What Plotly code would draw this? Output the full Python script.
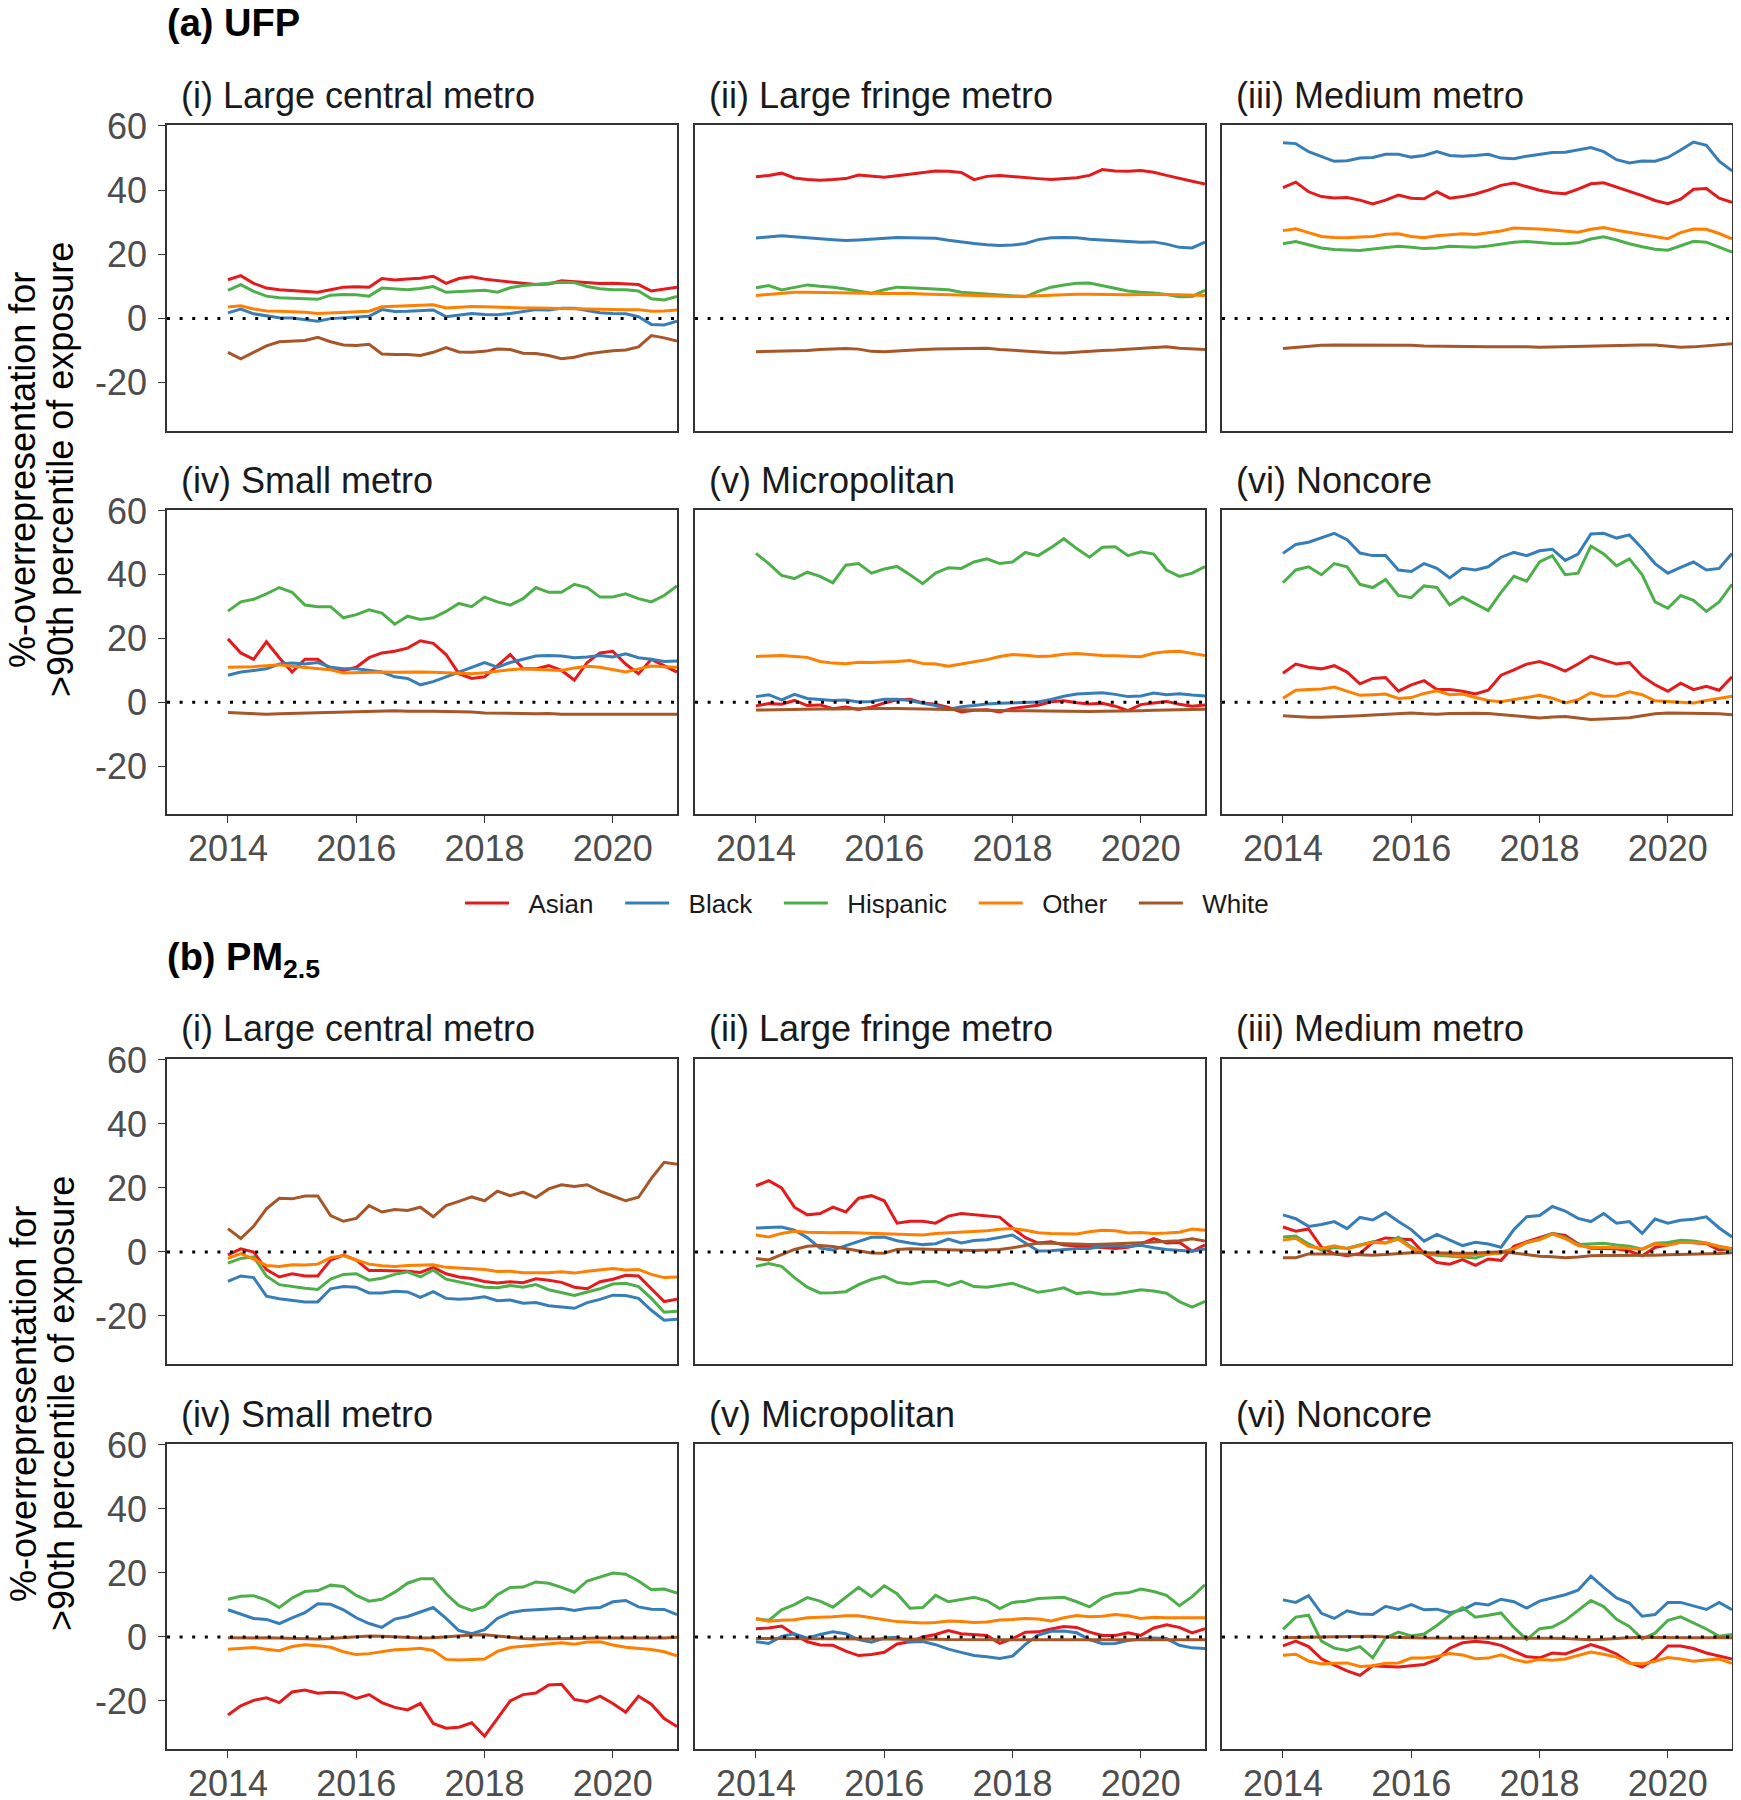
import plotly.graph_objects as go

# x positions: every 0.2 year from 2014.0 to 2021.0
years = [round(2014 + 0.2 * i, 1) for i in range(36)]

groups = ['Asian', 'Black', 'Hispanic', 'Other', 'White']
colors = {'Asian': '#E41A1C', 'Black': '#377EB8', 'Hispanic': '#4DAF4A',
          'Other': '#FF7F00', 'White': '#A65628'}

panel_titles = ['(i) Large central metro', '(ii) Large fringe metro', '(iii) Medium metro',
                '(iv) Small metro', '(v) Micropolitan', '(vi) Noncore']
section_titles = ['<b>(a) UFP</b>', '<b>(b) PM<sub>2.5</sub></b>']
x_ticks = [2014, 2016, 2018, 2020]
y_ticks = [-20, 0, 20, 40, 60]
y_ticktext = ['-20', '0', '20', '40', '60']

# ---- (a) UFP ----
ufp_central = {
    'Asian': [12.1, 13.4, 11.0, 9.5, 9.0, 8.8, 8.6, 8.2, 9.0, 9.8, 9.9, 9.8, 12.5, 12.0, 12.3, 12.6, 13.2, 11.0,
              12.5, 13.0, 12.3, 11.8, 11.3, 11.0, 10.6, 10.8, 11.8, 11.5, 11.2, 10.9, 11.0, 10.8, 10.6, 8.6, 9.2, 9.8],
    'Black': [1.8, 3.0, 1.5, 0.8, 0.3, 0.2, -0.2, -0.8, 0.0, 0.3, 0.5, 0.7, 2.8, 2.2, 2.3, 2.6, 2.7, 0.6,
              1.2, 1.6, 1.3, 1.2, 1.6, 2.3, 2.8, 2.7, 3.2, 3.2, 2.5, 1.8, 1.6, 1.5, 0.6, -1.8, -2.0, -0.8],
    'Hispanic': [8.8, 10.6, 8.5, 7.0, 6.5, 6.3, 6.3, 6.0, 7.3, 7.5, 7.4, 7.0, 9.5, 9.2, 9.0, 9.4, 10.0, 8.2,
                 8.4, 8.8, 8.8, 8.2, 9.6, 10.3, 10.6, 10.8, 11.3, 11.2, 10.0, 9.3, 9.0, 9.0, 8.6, 6.2, 5.8, 6.9],
    'Other': [3.6, 4.0, 3.0, 2.4, 2.3, 2.2, 2.0, 1.6, 1.8, 2.0, 2.1, 2.3, 3.7, 3.9, 4.0, 4.2, 4.3, 3.3,
              3.5, 3.8, 3.7, 3.5, 3.4, 3.3, 3.3, 3.2, 3.3, 3.2, 3.0, 3.0, 2.9, 2.8, 2.8, 2.3, 2.4, 2.7],
    'White': [-10.5, -12.5, -10.5, -8.5, -7.2, -7.0, -6.8, -5.8, -7.2, -8.2, -8.4, -8.0, -11.0, -11.2, -11.2, -11.5,
              -10.5, -9.0, -10.4, -10.5, -10.2, -9.5, -9.6, -10.8, -10.9, -11.5, -12.5, -12.0, -11.0, -10.5, -10.0,
              -9.8, -8.8, -5.3, -6.0, -7.0],
}
ufp_fringe = {
    'Asian': [44.2, 44.6, 45.3, 43.8, 43.3, 43.1, 43.3, 43.6, 44.7, 44.3, 44.0, 44.5, 45.0, 45.6, 46.0, 45.9, 45.5, 43.3,
              44.3, 44.6, 44.2, 43.8, 43.6, 43.3, 43.5, 43.9, 44.6, 46.4, 46.0, 45.9, 46.1, 45.6, 44.6, 43.6, 42.8, 41.9],
    'Black': [25.1, 25.5, 25.8, 25.5, 25.3, 24.9, 24.6, 24.3, 24.5, 24.8, 25.1, 25.3, 25.2, 25.1, 25.0, 24.4, 23.8, 23.4,
              23.0, 22.8, 22.9, 23.4, 24.6, 25.2, 25.3, 25.2, 24.7, 24.4, 24.2, 24.0, 23.8, 23.9, 23.2, 22.2, 22.0, 23.8],
    'Hispanic': [9.6, 10.3, 8.9, 9.8, 10.5, 10.1, 9.8, 9.2, 8.6, 7.9, 9.0, 9.8, 9.6, 9.4, 9.3, 9.0, 8.2, 7.9,
                 7.6, 7.3, 7.1, 6.8, 8.5, 9.8, 10.5, 11.0, 11.1, 10.2, 9.4, 8.6, 8.2, 8.0, 7.5, 6.8, 6.9, 8.8],
    'Other': [7.2, 7.6, 8.0, 8.2, 8.2, 8.1, 8.0, 7.9, 8.0, 7.9, 7.8, 7.8, 7.9, 7.7, 7.6, 7.5, 7.3, 7.2,
              7.0, 6.9, 6.9, 7.0, 7.2, 7.3, 7.5, 7.6, 7.6, 7.5, 7.4, 7.4, 7.5, 7.6, 7.5, 7.4, 7.3, 7.2],
    'White': [-10.3, -10.2, -10.0, -10.1, -9.9, -9.6, -9.5, -9.3, -9.5, -10.2, -10.3, -10.0, -9.8, -9.6, -9.5, -9.4,
              -9.2, -9.1, -9.2, -9.6, -9.9, -10.2, -10.4, -10.6, -10.7, -10.4, -10.1, -9.9, -9.8, -9.5, -9.2, -8.9,
              -8.8, -9.2, -9.4, -9.6],
}
ufp_medium = {
    'Asian': [40.8, 42.5, 39.5, 38.0, 37.6, 37.7, 36.9, 35.7, 36.9, 38.5, 37.5, 37.3, 39.5, 37.5, 38.0, 38.8, 40.0, 41.5,
              42.2, 41.0, 40.0, 39.2, 38.9, 40.3, 42.0, 42.3, 41.0, 39.5, 38.3, 36.8, 35.8, 37.2, 40.3, 40.5, 37.5, 36.2],
    'Black': [54.8, 54.5, 52.0, 50.5, 49.0, 49.2, 50.0, 50.2, 51.2, 51.2, 50.3, 50.8, 52.0, 50.8, 50.6, 50.8, 51.2, 50.0,
              49.8, 50.6, 51.2, 51.7, 51.8, 52.5, 53.3, 52.0, 49.5, 48.5, 49.1, 49.0, 50.2, 52.5, 55.0, 54.0, 49.0, 46.0],
    'Hispanic': [23.3, 24.0, 23.0, 22.0, 21.5, 21.3, 21.2, 21.7, 22.2, 22.5, 22.2, 21.8, 22.0, 22.5, 22.4, 22.2, 22.6,
                 23.2, 23.8, 24.0, 23.6, 23.4, 23.3, 23.6, 24.8, 25.5, 24.5, 23.3, 22.4, 21.6, 21.3, 22.8, 24.1, 23.8,
                 22.3, 20.7],
    'Other': [27.4, 28.0, 26.8, 25.6, 25.3, 25.2, 25.4, 25.6, 26.3, 26.4, 25.6, 25.2, 25.8, 26.2, 26.4, 26.2, 26.8, 27.3,
              28.2, 28.1, 27.9, 27.6, 27.3, 26.9, 27.8, 28.4, 27.5, 26.9, 26.3, 25.5, 24.9, 26.8, 27.9, 27.8, 26.5, 24.8],
    'White': [-9.3, -8.9, -8.5, -8.3, -8.2, -8.2, -8.3, -8.4, -8.3, -8.2, -8.3, -8.5, -8.6, -8.7, -8.6, -8.7, -8.8, -8.8,
              -8.7, -8.8, -8.9, -8.8, -8.8, -8.7, -8.5, -8.4, -8.2, -8.1, -8.2, -8.2, -8.5, -8.9, -8.8, -8.4, -8.0, -7.8],
}
ufp_small = {
    'Asian': [19.9, 15.5, 13.5, 19.0, 14.0, 9.5, 13.5, 13.5, 10.5, 10.0, 11.0, 14.0, 15.5, 16.0, 17.0, 19.3, 18.5, 15.0,
              9.0, 7.5, 8.0, 11.5, 15.0, 10.5, 10.5, 11.5, 10.0, 7.0, 12.5, 15.5, 16.0, 12.0, 9.0, 13.5, 11.5, 9.5],
    'Black': [8.5, 9.5, 10.0, 10.5, 12.0, 12.3, 12.0, 12.5, 11.0, 10.5, 10.5, 10.0, 9.5, 8.0, 7.5, 5.5, 6.5, 8.0,
              9.5, 11.0, 12.5, 11.0, 12.5, 13.5, 14.5, 14.7, 14.5, 14.0, 14.2, 14.7, 14.2, 15.2, 14.0, 13.5, 12.8, 13.0],
    'Hispanic': [28.6, 31.5, 32.3, 34.0, 36.0, 34.5, 30.5, 30.0, 30.0, 26.5, 27.5, 29.0, 28.0, 24.5, 27.0, 26.0, 26.5,
                 28.5, 31.0, 30.0, 33.0, 31.5, 30.5, 32.5, 36.0, 34.5, 34.5, 37.0, 36.0, 33.0, 33.0, 34.0, 32.5, 31.5,
                 33.5, 36.5],
    'Other': [11.0, 11.0, 11.2, 11.5, 11.8, 11.3, 11.0, 10.7, 10.2, 9.2, 9.3, 9.6, 9.5, 9.4, 9.5, 9.5, 9.4, 9.3,
              9.0, 9.0, 9.3, 9.8, 10.2, 10.5, 10.3, 10.0, 10.0, 10.8, 11.3, 11.0, 10.2, 9.5, 10.5, 11.4, 11.2, 11.0],
    'White': [-3.2, -3.4, -3.6, -3.7, -3.6, -3.5, -3.3, -3.2, -3.0, -2.9, -2.9, -2.8, -2.7, -2.6, -2.8, -2.7, -2.8, -2.9,
              -2.9, -3.0, -3.3, -3.3, -3.4, -3.5, -3.6, -3.5, -3.7, -3.7, -3.6, -3.7, -3.6, -3.5, -3.6, -3.6, -3.7, -3.7],
}
ufp_micro = {
    'Asian': [-1.1, -0.4, -0.6, 0.6, -1.0, -0.8, -2.0, -1.5, -2.2, -1.5, -0.2, 0.8, 1.0, -0.2, -0.6, -1.6, -3.0, -2.5,
              -2.3, -3.0, -1.9, -1.5, -0.9, 0.2, 0.5, -0.1, -0.5, -0.3, -1.2, -2.6, -0.7, -0.2, 0.3, -0.6, -1.2, -0.8],
    'Black': [1.8, 2.4, 0.8, 2.5, 1.2, 0.8, 0.6, 0.7, 0.1, 0.3, 1.0, 1.0, 0.6, -0.3, -1.0, -2.2, -1.4, -1.0,
              -0.5, -0.3, -0.2, -0.2, 0.1, 0.9, 1.9, 2.6, 2.8, 3.0, 2.5, 1.8, 2.0, 2.9, 2.4, 2.7, 2.3, 2.0],
    'Hispanic': [46.7, 43.5, 39.8, 38.8, 40.8, 39.5, 37.5, 43.0, 43.5, 40.5, 41.8, 42.6, 40.0, 37.2, 40.5, 42.2, 42.0,
                 44.0, 45.0, 43.5, 44.0, 47.0, 46.0, 48.5, 51.3, 48.2, 45.5, 48.6, 48.8, 46.0, 47.2, 46.5, 41.5, 39.5,
                 40.5, 42.6],
    'Other': [14.4, 14.5, 14.7, 14.4, 14.1, 12.8, 12.3, 12.1, 12.6, 12.5, 12.6, 12.8, 13.1, 12.2, 12.0, 11.3, 12.0, 12.7,
              13.4, 14.4, 15.0, 14.8, 14.4, 14.5, 15.1, 15.3, 14.9, 14.7, 14.6, 14.4, 14.3, 15.4, 15.9, 16.0, 15.4, 14.7],
    'White': [-2.4, -2.3, -2.3, -2.2, -2.2, -2.1, -2.1, -2.0, -2.0, -2.0, -1.9, -1.9, -2.0, -2.1, -2.2, -2.3, -2.4, -2.5,
              -2.5, -2.6, -2.6, -2.6, -2.7, -2.8, -2.8, -2.9, -2.9, -2.8, -2.8, -2.7, -2.6, -2.5, -2.4, -2.3, -2.2, -2.2],
}
ufp_noncore = {
    'Asian': [9.1, 12.0, 11.0, 10.5, 11.5, 9.5, 5.8, 7.5, 7.8, 3.5, 5.5, 6.8, 4.0, 4.0, 3.5, 2.6, 3.8, 8.5,
              10.2, 12.0, 12.8, 11.5, 9.8, 12.0, 14.5, 13.2, 12.0, 12.5, 8.2, 5.5, 3.5, 6.0, 4.0, 5.0, 3.8, 8.0],
    'Black': [46.7, 49.5, 50.2, 51.5, 53.0, 51.0, 46.8, 46.0, 46.0, 41.5, 41.0, 43.5, 42.0, 39.0, 42.0, 41.5, 42.5, 45.5,
              47.0, 46.0, 47.5, 48.0, 44.5, 46.5, 52.8, 53.0, 51.5, 52.5, 48.2, 43.5, 40.5, 42.3, 44.0, 41.5, 42.0, 46.7],
    'Hispanic': [37.5, 41.5, 42.5, 40.0, 43.5, 42.5, 37.0, 36.0, 38.5, 33.5, 32.8, 36.5, 36.0, 30.5, 33.0, 31.0, 28.8,
                 34.5, 39.5, 38.0, 44.0, 46.0, 40.0, 40.5, 49.0, 46.5, 42.8, 45.0, 40.0, 31.5, 29.5, 33.5, 32.0, 28.5,
                 31.5, 37.0],
    'Other': [1.3, 3.8, 4.0, 4.2, 4.8, 3.6, 2.2, 2.4, 2.6, 1.2, 1.5, 2.8, 3.6, 2.4, 2.6, 1.5, 0.6, 0.2,
              0.9, 1.7, 2.2, 1.3, -0.2, 0.8, 3.0, 1.9, 2.0, 3.3, 2.4, 0.5, 0.2, 0.0, -0.2, 0.6, 1.2, 1.9],
    'White': [-4.2, -4.5, -4.7, -4.7, -4.6, -4.5, -4.2, -4.0, -3.8, -3.5, -3.3, -3.6, -3.7, -3.5, -3.4, -3.4, -3.5, -3.8,
              -4.3, -4.5, -4.9, -4.6, -4.4, -4.9, -5.4, -5.2, -5.0, -4.8, -4.2, -3.6, -3.3, -3.3, -3.4, -3.5, -3.6, -3.9],
}

# ---- (b) PM2.5 ----
pm_central = {
    'Asian': [-0.9, 1.0, 0.0, -5.5, -7.8, -6.8, -7.5, -7.5, -2.5, -1.0, -2.5, -5.8, -5.8, -5.8, -6.0, -6.4, -4.8, -6.8,
              -7.8, -8.3, -9.2, -9.7, -9.3, -9.6, -8.4, -8.8, -9.5, -11.0, -11.5, -9.3, -8.5, -7.3, -7.5, -11.5, -15.5,
              -14.8],
    'Black': [-9.2, -7.5, -8.0, -13.8, -14.6, -15.1, -15.6, -15.6, -11.5, -10.8, -11.0, -12.8, -12.8, -12.3, -12.5,
              -14.2, -12.4, -14.5, -14.8, -14.5, -14.0, -15.2, -15.0, -16.0, -15.8, -16.8, -17.2, -17.6, -15.8, -14.8,
              -13.5, -13.6, -14.5, -18.2, -21.3, -21.0],
    'Hispanic': [-3.5, -2.0, -1.5, -7.5, -10.2, -10.8, -11.3, -11.7, -8.5, -7.0, -6.8, -8.8, -8.2, -7.0, -6.2, -7.8,
                 -5.6, -8.5, -9.3, -10.0, -11.0, -11.2, -10.5, -11.0, -10.2, -11.8, -12.8, -13.6, -12.5, -11.5, -10.0,
                 -9.8, -10.8, -14.5, -18.8, -18.5],
    'Other': [-2.0, -0.5, -2.2, -4.2, -4.5, -4.0, -4.1, -3.8, -1.8, -1.1, -2.5, -3.8, -4.3, -4.5, -4.2, -4.1, -4.0, -4.8,
              -5.0, -5.2, -5.5, -6.1, -6.0, -6.5, -6.6, -6.5, -6.2, -6.6, -6.0, -5.7, -5.2, -5.6, -5.5, -7.0, -8.0, -7.8],
    'White': [7.3, 4.2, 8.0, 13.5, 16.8, 16.6, 17.5, 17.5, 11.4, 9.6, 10.5, 14.5, 12.5, 13.3, 13.0, 14.0, 11.0, 14.5,
              15.8, 17.2, 16.0, 19.0, 17.6, 18.7, 17.0, 19.7, 21.0, 20.5, 21.0, 19.0, 17.5, 16.0, 17.1, 23.0, 28.0, 27.4],
}
pm_fringe = {
    'Asian': [20.7, 22.3, 20.0, 14.0, 11.6, 12.0, 14.0, 12.5, 16.8, 17.6, 16.0, 9.0, 9.6, 9.6, 9.0, 11.2, 12.0, 11.7,
              11.4, 10.9, 7.5, 4.5, 2.8, 3.2, 2.2, 2.0, 1.6, 1.4, 1.1, 1.5, 2.5, 4.2, 2.8, 3.0, 0.2, 2.2],
    'Black': [7.5, 7.7, 7.8, 6.8, 4.5, 1.2, 0.6, 2.0, 3.3, 4.6, 4.7, 3.5, 2.8, 2.3, 2.6, 4.0, 2.8, 3.6,
              3.8, 4.6, 5.3, 2.8, 0.3, 0.4, 0.8, 1.1, 1.1, 1.8, 2.0, 1.7, 2.1, 1.3, 0.8, 0.5, 0.2, 0.9],
    'Hispanic': [-4.5, -3.6, -4.5, -8.0, -11.0, -12.8, -12.7, -12.4, -10.2, -8.6, -7.6, -9.5, -10.0, -9.3, -9.2, -10.5,
                 -9.2, -10.8, -11.0, -10.5, -9.8, -11.2, -12.6, -12.0, -11.2, -13.0, -12.5, -13.2, -13.1, -12.5, -11.8,
                 -12.2, -12.9, -15.5, -17.2, -15.4],
    'Other': [5.3, 4.7, 5.8, 6.5, 6.2, 6.0, 6.0, 6.1, 6.0, 5.9, 5.8, 5.6, 5.4, 5.3, 5.8, 6.0, 6.1, 6.4,
              6.6, 7.1, 7.3, 6.8, 6.0, 5.8, 5.6, 5.6, 6.3, 6.8, 6.6, 5.9, 6.1, 5.8, 5.9, 6.2, 7.2, 6.8],
    'White': [-2.0, -2.5, -0.8, 0.8, 1.8, 2.0, 1.7, 1.0, 0.2, -0.3, -0.4, 0.8, 1.0, 0.9, 0.7, 0.6, 0.4, 0.5,
              0.6, 0.8, 1.3, 2.0, 2.8, 2.7, 2.5, 2.3, 2.3, 2.4, 2.5, 2.7, 2.9, 3.1, 3.2, 3.5, 4.1, 3.4],
}
pm_medium = {
    'Asian': [7.8, 6.5, 7.2, 1.5, -0.6, -1.2, -0.5, 3.0, 4.4, 4.2, 3.8, -0.5, -3.3, -3.8, -2.4, -4.2, -2.2, -2.6,
              1.8, 3.2, 4.4, 5.8, 5.2, 2.6, 1.2, 1.0, 1.0, 0.3, -1.2, 1.4, 2.2, 3.1, 2.9, 2.6, 0.6, 1.1],
    'Black': [11.6, 10.4, 8.0, 8.6, 9.5, 7.3, 10.8, 10.0, 12.3, 9.5, 7.0, 3.4, 5.5, 3.8, 2.0, 3.0, 2.5, 1.5,
              7.0, 11.0, 11.4, 14.2, 12.8, 10.5, 9.5, 12.0, 9.0, 9.5, 5.8, 10.3, 9.0, 9.9, 10.2, 11.0, 7.5, 4.7],
    'Hispanic': [4.7, 5.0, 2.5, 0.6, 1.4, 1.2, 2.2, 3.2, 2.8, 4.6, 1.6, -0.6, -1.0, -1.2, -1.6, -1.9, -0.6, -0.1,
                 1.0, 2.9, 4.0, 5.8, 4.5, 2.3, 2.6, 2.7, 2.2, 1.8, 0.9, 2.7, 3.0, 3.7, 3.4, 2.8, 1.6, 0.6],
    'Other': [3.7, 4.3, 1.8, 1.1, 1.9, 1.0, 2.0, 3.0, 2.8, 4.0, 1.2, -0.4, -0.7, -1.0, -1.2, -0.8, -0.5, -0.4,
              1.0, 3.0, 3.8, 5.6, 4.2, 2.0, 1.4, 1.5, 1.3, 1.2, 0.8, 2.6, 2.1, 3.0, 3.0, 2.7, 1.8, 1.1],
    'White': [-1.8, -1.8, -0.6, -0.5, -0.6, -0.7, -0.9, -1.0, -0.8, -0.5, -0.2, -0.2, -0.3, -0.4, -0.4, -0.3, -0.1, 0.1,
              -0.3, -0.8, -1.3, -1.5, -1.8, -1.6, -1.2, -1.1, -1.1, -1.2, -1.1, -1.0, -0.9, -0.8, -0.8, -0.7, -0.5, -0.2],
}
pm_small = {
    'Asian': [-24.4, -21.5, -19.8, -19.0, -20.5, -17.2, -16.6, -17.6, -17.3, -17.5, -19.2, -18.0, -20.5, -22.0, -22.8,
              -20.8, -27.0, -28.5, -28.2, -26.8, -31.0, -25.5, -20.0, -18.0, -17.5, -15.0, -14.8, -19.5, -20.2, -18.5,
              -20.8, -23.5, -18.5, -21.0, -25.5, -28.0],
    'Black': [8.5, 7.2, 5.8, 5.5, 4.2, 6.0, 7.6, 10.4, 10.2, 8.5, 6.0, 4.2, 3.0, 5.6, 6.4, 7.8, 9.2, 5.8,
              2.0, 1.0, 2.3, 5.8, 7.6, 8.3, 8.6, 8.9, 9.0, 8.3, 9.0, 9.2, 11.0, 11.4, 9.4, 8.7, 8.6, 7.0],
    'Hispanic': [11.8, 12.7, 12.9, 11.5, 9.2, 12.2, 14.2, 14.5, 16.2, 15.8, 13.0, 11.2, 11.8, 14.0, 16.8, 18.2, 18.2,
                 13.5, 9.8, 8.3, 9.5, 13.2, 15.5, 15.6, 17.2, 16.8, 15.5, 14.0, 17.5, 18.8, 20.0, 19.6, 17.5, 14.8,
                 15.0, 13.7],
    'Other': [-3.8, -3.6, -3.3, -3.8, -4.3, -3.0, -2.4, -2.7, -3.2, -4.6, -5.5, -5.2, -4.5, -4.0, -3.8, -3.5, -4.2, -7.0,
              -7.2, -7.0, -6.9, -4.5, -3.3, -2.9, -2.5, -2.3, -1.8, -2.3, -1.6, -1.5, -2.5, -3.2, -3.6, -3.9, -4.6, -5.9],
    'White': [-0.2, -0.3, -0.3, -0.2, -0.3, -0.5, -0.6, -0.6, -0.5, -0.3, 0.0, 0.3, 0.2, 0.0, -0.2, -0.3, -0.2, 0.1,
              0.4, 0.6, 0.7, 0.3, -0.3, -0.5, -0.6, -0.6, -0.5, -0.5, -0.4, -0.3, -0.3, -0.4, -0.5, -0.4, -0.3, -0.1],
}
pm_micro = {
    'Asian': [2.6, 2.8, 3.4, 0.8, -1.5, -2.5, -2.6, -4.4, -5.8, -5.5, -4.8, -2.2, -1.5, 0.0, 0.8, 2.0, 1.0, 0.8,
              0.5, -2.0, -0.5, 1.5, 1.6, 2.5, 3.3, 3.0, 1.5, 0.5, 0.5, 1.3, 0.5, 2.8, 3.8, 3.0, 1.3, 2.6],
    'Black': [-1.5, -2.0, 0.2, 1.0, -0.4, 0.8, 1.6, 1.0, -0.8, -1.6, -0.3, -0.1, -1.6, -1.4, -2.4, -3.8, -4.8, -5.8,
              -6.2, -6.7, -6.0, -2.3, 0.6, 1.8, 1.9, 1.3, -0.8, -2.1, -2.0, -1.1, -0.6, -0.3, -0.5, -2.6, -3.4, -3.6],
    'Hispanic': [5.7, 5.2, 8.5, 10.1, 12.3, 11.2, 9.3, 12.5, 15.5, 12.6, 16.0, 13.5, 9.0, 9.2, 13.0, 11.0, 11.8, 12.4,
                 11.3, 8.9, 10.8, 11.2, 12.0, 12.1, 12.4, 11.0, 9.4, 12.2, 13.6, 13.8, 15.0, 14.2, 13.0, 9.8, 12.6, 16.3],
    'Other': [5.7, 4.9, 5.2, 5.4, 6.0, 6.1, 6.3, 6.6, 6.6, 6.0, 5.4, 4.8, 4.6, 4.4, 4.5, 5.0, 4.8, 4.5,
              4.7, 5.3, 5.5, 5.8, 5.6, 5.0, 6.0, 6.7, 6.3, 6.5, 7.0, 6.6, 5.8, 6.2, 6.0, 6.1, 6.0, 6.0],
    'White': [-0.5, -0.5, -0.6, -0.6, -0.6, -0.6, -0.6, -0.6, -0.7, -0.7, -0.7, -0.7, -0.7, -0.7, -0.7, -0.8, -0.8, -0.8,
              -0.8, -0.8, -0.8, -0.8, -0.8, -0.8, -0.8, -0.8, -0.8, -0.8, -0.9, -0.9, -0.9, -0.9, -0.9, -0.9, -0.9, -0.9],
}
pm_noncore = {
    'Asian': [-2.8, -1.3, -3.0, -6.8, -8.8, -10.6, -12.0, -9.0, -9.2, -9.4, -9.0, -8.6, -7.0, -3.5, -1.8, -1.3, -1.7,
              -2.6, -4.4, -6.2, -6.5, -5.0, -5.3, -3.8, -2.4, -3.6, -5.3, -8.0, -9.4, -6.8, -2.8, -2.8, -3.6, -5.0,
              -6.0, -6.9],
    'Black': [11.6, 10.8, 12.9, 7.4, 5.8, 8.2, 7.2, 7.0, 9.6, 8.6, 10.1, 8.5, 8.7, 7.6, 8.5, 10.5, 10.0, 11.8,
              11.0, 9.0, 11.2, 12.2, 13.2, 14.6, 19.0, 15.5, 12.2, 10.6, 6.5, 7.0, 10.8, 10.8, 9.8, 8.6, 10.8, 8.5],
    'Hispanic': [2.4, 6.2, 6.8, -1.3, -3.5, -4.2, -3.0, -6.5, -0.3, 1.5, 0.3, 0.9, 3.6, 6.8, 9.2, 6.2, 6.8, 7.5,
                 3.0, -0.8, 2.6, 3.1, 5.2, 8.3, 11.4, 9.5, 5.5, 3.3, -0.6, 1.2, 5.2, 6.3, 4.3, 2.5, 0.2, 0.8],
    'Other': [-5.7, -5.4, -7.5, -8.4, -8.2, -8.1, -9.2, -9.0, -8.2, -8.1, -6.6, -6.6, -6.1, -5.2, -5.6, -6.8, -6.6, -5.6,
              -7.0, -7.9, -7.0, -7.3, -6.9, -5.8, -4.7, -5.4, -6.3, -8.2, -8.4, -7.6, -6.4, -6.9, -7.6, -7.2, -6.9, -8.2],
    'White': [-0.2, -0.2, -0.1, 0.0, 0.1, 0.2, 0.3, 0.2, 0.0, -0.2, -0.2, -0.3, -0.3, -0.3, -0.2, -0.2, -0.2, -0.2,
              -0.3, -0.3, -0.3, -0.4, -0.5, -0.7, -0.9, -0.7, -0.4, -0.2, -0.1, -0.2, -0.2, -0.2, -0.2, -0.2, -0.2, -0.2],
}

sections = [
    [ufp_central, ufp_fringe, ufp_medium, ufp_small, ufp_micro, ufp_noncore],
    [pm_central, pm_fringe, pm_medium, pm_small, pm_micro, pm_noncore],
]

# page geometry in pixels (the page body adds an 8px margin, so shift up/left)
W, H = 1741, 1800
OFF = 8
col_px = [(167, 677), (695, 1205), (1222, 1732)]
row_px = [(125, 431), (510, 814), (1059, 1364), (1444, 1749)]
FONT = 'Liberation Sans, Arial, sans-serif'
NB = '\u00a0'


def px_x(v):
    return (v - OFF) / W


def px_y(v):
    return 1 - (v - OFF) / H


fig = go.Figure()
layout = {}
annotations = []
shapes = []

for s, panels in enumerate(sections):
    for p, data in enumerate(panels):
        n = s * 6 + p + 1
        r = s * 2 + p // 3
        c = p % 3
        xa = 'x' if n == 1 else f'x{n}'
        ya = 'y' if n == 1 else f'y{n}'
        for g in groups:
            fig.add_trace(go.Scatter(
                x=years, y=data[g], mode='lines', name=NB * 2 + g + NB * 3, xaxis=xa, yaxis=ya,
                line=dict(color=colors[g], width=3),
                legendgroup=g, showlegend=(n == 1),
            ))
        bottom_row = (p // 3 == 1)
        left_col = (c == 0)
        x0, x1 = col_px[c]
        y0, y1 = row_px[r]
        layout['xaxis' if n == 1 else f'xaxis{n}'] = dict(
            domain=[px_x(x0), px_x(x1)], anchor=ya, range=[2013.05, 2021.0],
            showgrid=False, zeroline=False, showline=True, mirror=True, automargin=False,
            linecolor='#333333', linewidth=1.5,
            tickvals=x_ticks, ticks='outside' if bottom_row else '',
            ticklen=7, tickcolor='#333333', showticklabels=bottom_row,
            tickfont=dict(size=36, color='#4D4D4D', family=FONT),
            ticklabelstandoff=-5,
        )
        layout['yaxis' if n == 1 else f'yaxis{n}'] = dict(
            domain=[px_y(y1), px_y(y0)], anchor=xa, range=[-35, 60.3],
            showgrid=False, zeroline=False, showline=True, mirror=True, automargin=False,
            linecolor='#333333', linewidth=1.5,
            tickvals=y_ticks, ticktext=y_ticktext, ticks='outside' if left_col else '',
            ticklen=7, tickcolor='#333333', showticklabels=left_col,
            tickfont=dict(size=36, color='#4D4D4D', family=FONT),
            ticklabelstandoff=4,
        )
        # dotted reference line at zero
        shapes.append(dict(
            type='line', xref=f'{xa} domain', x0=0, x1=1, yref=ya, y0=0, y1=0,
            line=dict(color='black', width=3, dash='3px,9.6px'), layer='above',
        ))
        # strip title
        annotations.append(dict(
            text=panel_titles[p], xref='paper', yref='paper',
            x=px_x(x0 + 12), y=px_y(y0 - 30), xanchor='left', yanchor='middle',
            showarrow=False, font=dict(size=36, color='#1A1A1A', family=FONT),
        ))

# section titles
for s, (title, ypix) in enumerate(zip(section_titles, [23, 960])):
    annotations.append(dict(
        text=title, xref='paper', yref='paper', x=px_x(165), y=px_y(ypix),
        xanchor='left', yanchor='middle', showarrow=False,
        font=dict(size=38, color='black', family=FONT),
    ))

# y-axis titles (two lines each)
for yc in [470, 1404]:
    for line_text, xc in [('%-overrepresentation for', 23), ('>90th percentile of exposure', 61)]:
        annotations.append(dict(
            text=line_text, xref='paper', yref='paper', x=px_x(xc), y=px_y(yc),
            xanchor='center', yanchor='middle', textangle=-90, showarrow=False,
            font=dict(size=36, color='black', family=FONT),
        ))

fig.update_layout(
    width=W, height=H,
    margin=dict(l=0, r=0, t=0, b=0),
    paper_bgcolor='white', plot_bgcolor='white',
    font=dict(family=FONT),
    showlegend=True,
    legend=dict(orientation='h', x=px_x(870) + OFF / W, xanchor='center', y=px_y(903), yanchor='middle',
                font=dict(size=26, color='#1A1A1A', family=FONT), itemwidth=44,
                bgcolor='rgba(0,0,0,0)'),
    annotations=annotations,
    shapes=shapes,
    **layout,
)

fig.write_html('out.html')
